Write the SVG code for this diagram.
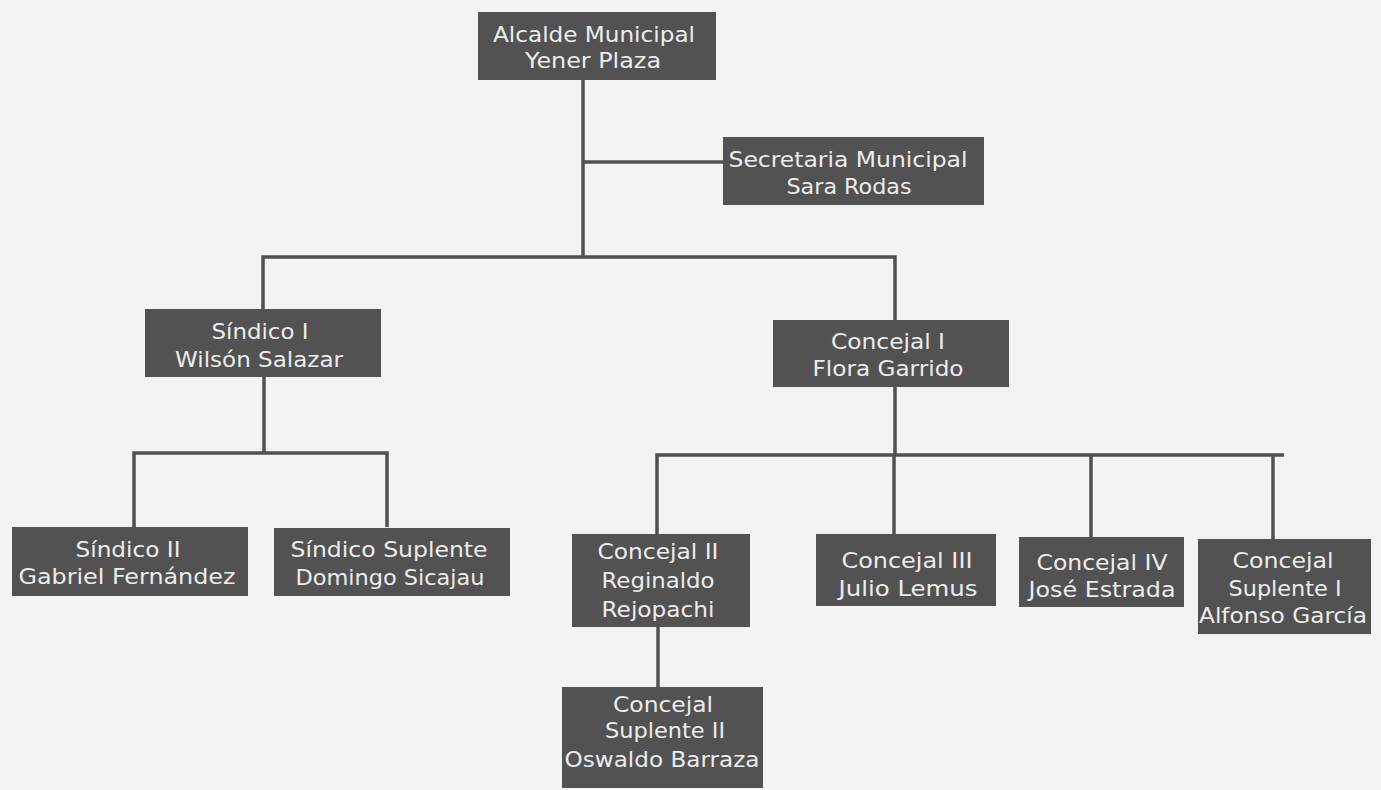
<svg xmlns="http://www.w3.org/2000/svg" width="1381" height="790" viewBox="0 0 1381 790">
<style>
.bg{fill:#f3f3f1}
.box{fill:#525252}
.t{font-family:"DejaVu Sans","Liberation Sans",sans-serif;font-size:21px;fill:#ececec;text-anchor:middle}
.c{stroke:#505050;stroke-width:3.5;fill:none}
</style>
<rect class="bg" x="0" y="0" width="1381" height="790"/>
<g id="connectors">
<path class="c" d="M583 80 V257"/>
<path class="c" d="M583 162 H723"/>
<path class="c" d="M263 309 V257 H895 V320"/>
<path class="c" d="M264 377 V453"/>
<path class="c" d="M134 527 V453 H387 V527"/>
<path class="c" d="M895 387 V455"/>
<path class="c" d="M657 534 V455 H1284"/>
<path class="c" d="M894 455 V534"/>
<path class="c" d="M1091 455 V537"/>
<path class="c" d="M1273 455 V539"/>
<path class="c" d="M658 627 V687"/>
</g>
<g id="alcalde">
<rect class="box" x="478" y="12" width="238" height="68"/>
<text class="t" x="594" y="42" textLength="202" lengthAdjust="spacingAndGlyphs">Alcalde Municipal</text>
<text class="t" x="593" y="68" textLength="136" lengthAdjust="spacingAndGlyphs">Yener Plaza</text>
</g>
<g id="secretaria">
<rect class="box" x="723" y="137" width="261" height="68"/>
<text class="t" x="848" y="167" textLength="239" lengthAdjust="spacingAndGlyphs">Secretaria Municipal</text>
<text class="t" x="849" y="194" textLength="125" lengthAdjust="spacingAndGlyphs">Sara Rodas</text>
</g>
<g id="sindico1">
<rect class="box" x="145" y="309" width="236" height="68"/>
<text class="t" x="260" y="339" textLength="97" lengthAdjust="spacingAndGlyphs">Síndico I</text>
<text class="t" x="259" y="367" textLength="168" lengthAdjust="spacingAndGlyphs">Wilsón Salazar</text>
</g>
<g id="concejal1">
<rect class="box" x="773" y="320" width="236" height="67"/>
<text class="t" x="888" y="349" textLength="114" lengthAdjust="spacingAndGlyphs">Concejal I</text>
<text class="t" x="888" y="376" textLength="151" lengthAdjust="spacingAndGlyphs">Flora Garrido</text>
</g>
<g id="sindico2">
<rect class="box" x="12" y="527" width="236" height="69"/>
<text class="t" x="128" y="557" textLength="105" lengthAdjust="spacingAndGlyphs">Síndico II</text>
<text class="t" x="127" y="584" textLength="217" lengthAdjust="spacingAndGlyphs">Gabriel Fernández</text>
</g>
<g id="sindicoSuplente">
<rect class="box" x="274" y="528" width="236" height="68"/>
<text class="t" x="389" y="557" textLength="197" lengthAdjust="spacingAndGlyphs">Síndico Suplente</text>
<text class="t" x="390" y="585" textLength="189" lengthAdjust="spacingAndGlyphs">Domingo Sicajau</text>
</g>
<g id="concejal2">
<rect class="box" x="572" y="534" width="178" height="93"/>
<text class="t" x="658" y="559" textLength="121" lengthAdjust="spacingAndGlyphs">Concejal II</text>
<text class="t" x="658" y="588" textLength="113" lengthAdjust="spacingAndGlyphs">Reginaldo</text>
<text class="t" x="658" y="617" textLength="113" lengthAdjust="spacingAndGlyphs">Rejopachi</text>
</g>
<g id="concejal3">
<rect class="box" x="816" y="534" width="180" height="72"/>
<text class="t" x="907" y="568" textLength="131" lengthAdjust="spacingAndGlyphs">Concejal III</text>
<text class="t" x="908" y="596" textLength="139" lengthAdjust="spacingAndGlyphs">Julio Lemus</text>
</g>
<g id="concejal4">
<rect class="box" x="1019" y="537" width="165" height="70"/>
<text class="t" x="1102" y="570" textLength="131" lengthAdjust="spacingAndGlyphs">Concejal IV</text>
<text class="t" x="1102" y="597" textLength="147" lengthAdjust="spacingAndGlyphs">José Estrada</text>
</g>
<g id="concejalSuplente1">
<rect class="box" x="1198" y="539" width="173" height="95"/>
<text class="t" x="1283" y="568" textLength="101" lengthAdjust="spacingAndGlyphs">Concejal</text>
<text class="t" x="1285" y="596" textLength="113" lengthAdjust="spacingAndGlyphs">Suplente I</text>
<text class="t" x="1283" y="623" textLength="168" lengthAdjust="spacingAndGlyphs">Alfonso García</text>
</g>
<g id="concejalSuplente2">
<rect class="box" x="562" y="687" width="201" height="101"/>
<text class="t" x="663" y="712" textLength="100" lengthAdjust="spacingAndGlyphs">Concejal</text>
<text class="t" x="665" y="738" textLength="120" lengthAdjust="spacingAndGlyphs">Suplente II</text>
<text class="t" x="662" y="767" textLength="195" lengthAdjust="spacingAndGlyphs">Oswaldo Barraza</text>
</g>
</svg>
